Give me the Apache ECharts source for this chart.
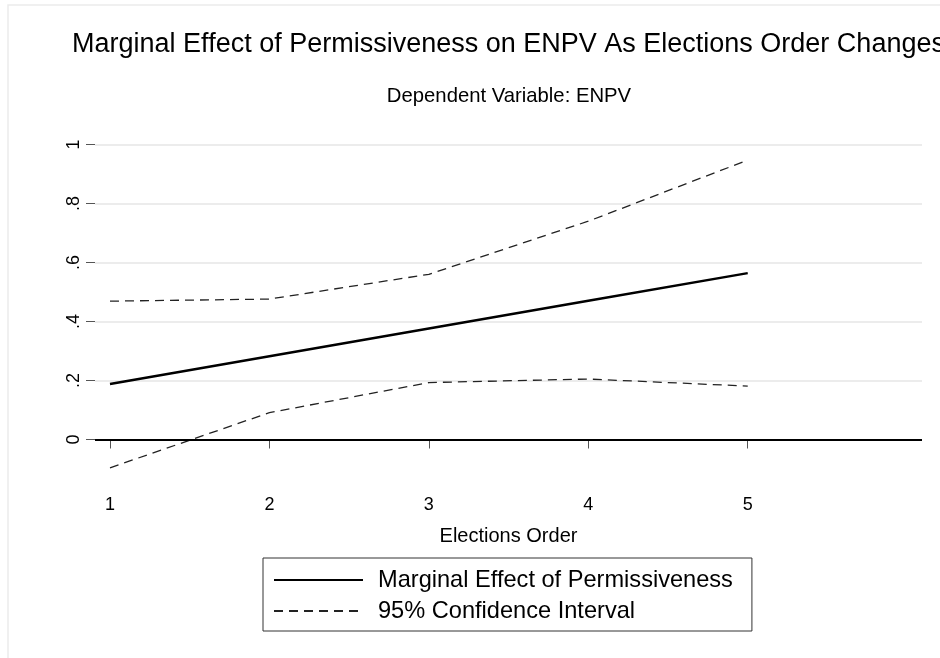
<!DOCTYPE html>
<html>
<head>
<meta charset="utf-8">
<script src="https://cdn.jsdelivr.net/npm/echarts@6/dist/echarts.min.js"></script>
<style>
html,body{margin:0;padding:0;background:#fff;}
#chart{width:940px;height:658px;}
</style>
</head>
<body>
<div id="chart"></div>
<script>
// ---- data ----
const electionsOrder = [1, 2, 3, 4, 5];
const marginalEffect = [0.188, 0.282, 0.376, 0.470, 0.564];
const upperCI = [0.469, 0.476, 0.560, 0.740, 0.947];
const lowerCI = [-0.096, 0.091, 0.193, 0.205, 0.181];
const xTickValues = [1, 2, 3, 4, 5];
const yTickValues = [0, 0.2, 0.4, 0.6, 0.8, 1];
const yTickLabels = ['0', '.2', '.4', '.6', '.8', '1'];
const titleText = 'Marginal Effect of Permissiveness on ENPV As Elections Order Changes';
const subtitleText = 'Dependent Variable: ENPV';
const xAxisTitle = 'Elections Order';
const seriesNames = ['Marginal Effect of Permissiveness', '95% Confidence Interval'];

const FONT = "'Liberation Sans', Arial, Helvetica, sans-serif";
const pairs = arr => electionsOrder.map((x, i) => [x, arr[i]]);

const chart = echarts.init(document.getElementById('chart'), null, {renderer: 'canvas'});
chart.setOption({
  backgroundColor: '#ffffff',
  animation: false,
  textStyle: {fontFamily: FONT},
  graphic: [{
    type: 'rect', silent: true, z: -10,
    shape: {x: 8, y: 5, width: 1200, height: 1000},
    style: {fill: '#ffffff', stroke: '#ebebeb', lineWidth: 1.5}
  }],
  title: [{
    text: titleText,
    left: 508.5, top: 31, textAlign: 'center', padding: 0,
    textStyle: {fontFamily: FONT, fontSize: 27, fontWeight: 'normal', color: '#000'}
  }, {
    text: subtitleText,
    left: 509, top: 86, textAlign: 'center', padding: 0,
    textStyle: {fontFamily: FONT, fontSize: 20.3, fontWeight: 'normal', color: '#000'}
  }],
  legend: {
    data: seriesNames,
    orient: 'vertical',
    left: 263, top: 558,
    padding: [9, 19, 7, 10],
    itemWidth: 89, itemHeight: 14, itemGap: 5,
    borderColor: '#333', borderWidth: 1,
    backgroundColor: '#fff',
    itemStyle: {color: 'transparent', borderWidth: 0, opacity: 0},
    textStyle: {fontFamily: FONT, fontSize: 23.6, color: '#000', lineHeight: 26, padding: [0, 0, 0, 10]},
    selectedMode: false
  },
  grid: {left: 95, right: 18, top: 144.5, bottom: 174.25, containLabel: false, outerBoundsMode: 'none'},
  xAxis: {
    type: 'value', min: 0.906, max: 6.093,
    name: xAxisTitle, nameLocation: 'middle', nameGap: 43,
    nameTextStyle: {fontFamily: FONT, fontSize: 20, color: '#000'},
    axisLine: {show: false},
    axisTick: {show: true, length: 9, customValues: xTickValues, lineStyle: {color: '#555', width: 1}},
    axisLabel: {customValues: xTickValues, margin: 12, fontFamily: FONT, fontSize: 18, color: '#000',
      formatter: v => String(v)},
    splitLine: {show: false}
  },
  yAxis: {
    type: 'value', min: -0.15, max: 1,
    axisLine: {show: false},
    axisTick: {show: true, length: 9, customValues: yTickValues, lineStyle: {color: '#555', width: 1}},
    axisLabel: {customValues: yTickValues, rotate: 90, margin: 12, fontFamily: FONT, fontSize: 18, color: '#000',
      formatter: v => { const i = yTickValues.findIndex(t => Math.abs(t - v) < 1e-9); return i >= 0 ? yTickLabels[i] : ''; }},
    splitLine: {show: true, showMinLine: false, lineStyle: {color: '#e6e6e6', width: 1.5}}
  },
  series: [{
    name: seriesNames[0], type: 'line', data: pairs(marginalEffect),
    symbol: 'none', showSymbol: false, z: 5,
    lineStyle: {color: '#000', width: 2.5},
    itemStyle: {color: '#000'},
    markLine: {
      silent: true, symbol: ['none', 'none'], label: {show: false},
      lineStyle: {color: '#000', width: 2, type: 'solid'},
      data: [{yAxis: 0}]
    }
  }, {
    name: seriesNames[1], type: 'line', data: pairs(upperCI),
    symbol: 'none', showSymbol: false, z: 4,
    lineStyle: {color: '#222', width: 1.3, type: [9, 6]},
    itemStyle: {color: '#222'}
  }, {
    name: seriesNames[1], type: 'line', data: pairs(lowerCI),
    symbol: 'none', showSymbol: false, z: 4,
    lineStyle: {color: '#222', width: 1.3, type: [9, 6]},
    itemStyle: {color: '#222'}
  }]
});
</script>
</body>
</html>
